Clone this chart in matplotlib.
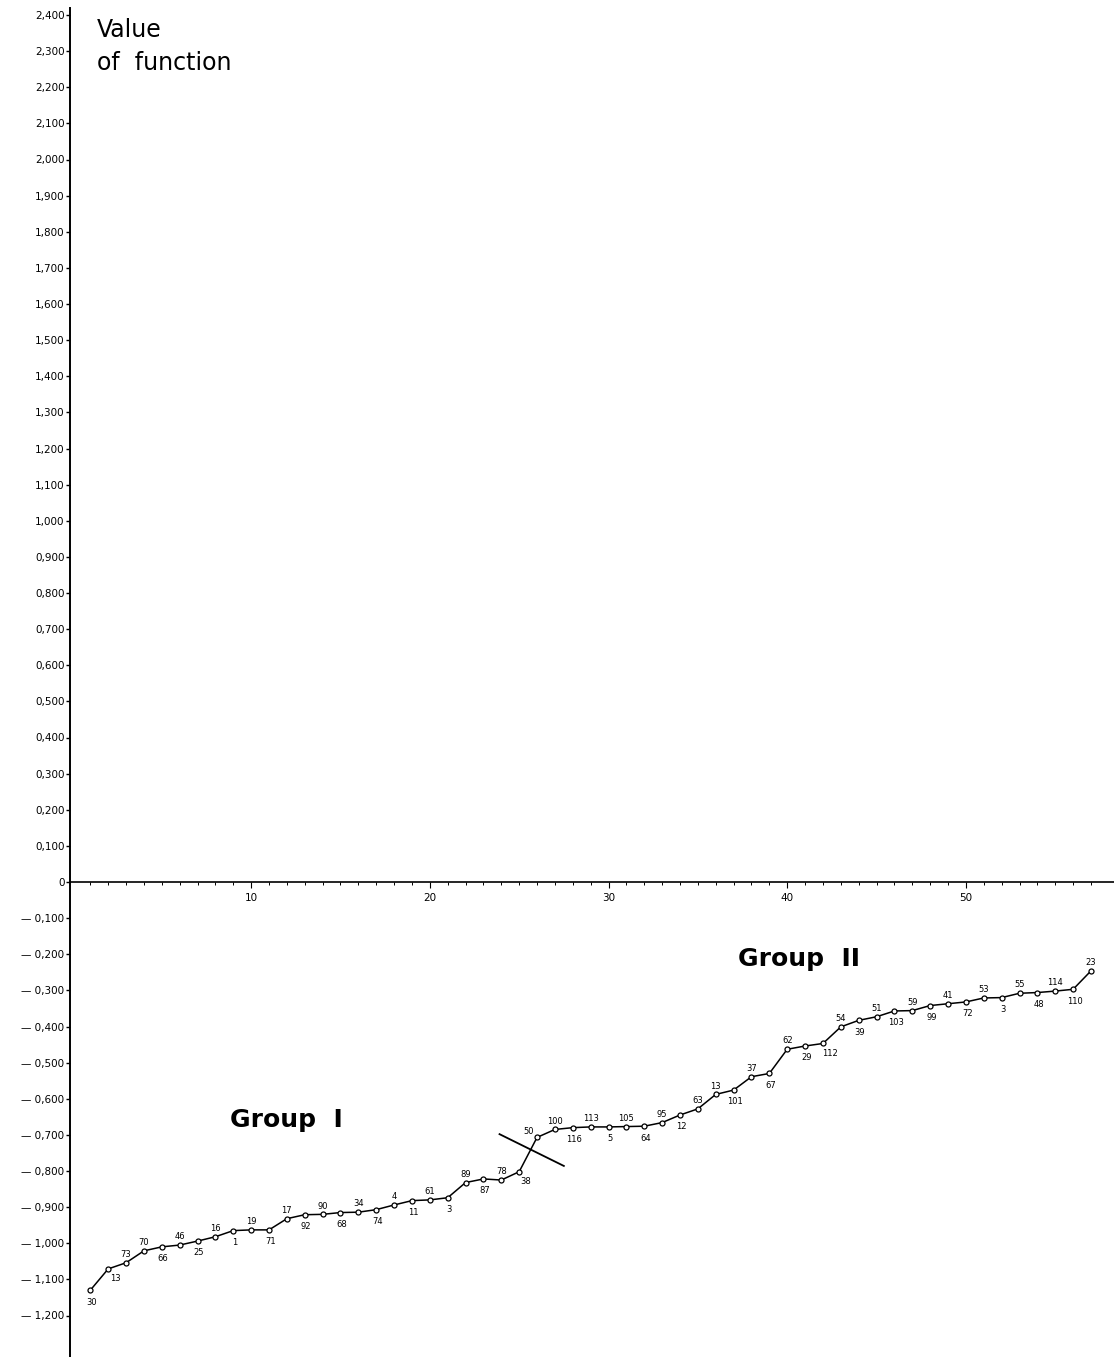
import numpy as np
import matplotlib.pyplot as plt

# data
position = np.arange(1, 58)
object_id = [30, 13, 73, 70, 66, 46, 25, 16, 1, 19, 71, 17, 92, 90, 68, 34, 74, 4, 11, 61,
             3, 89, 87, 78, 38, 50, 100, 116, 113, 5, 105, 64, 95, 12, 63, 13, 101, 37, 67, 62,
             29, 112, 54, 39, 51, 103, 59, 99, 41, 72, 53, 3, 55, 48, 114, 110, 23]
func_value = [-1.130, -1.071, -1.054, -1.021, -1.010, -1.005, -0.994, -0.982, -0.965, -0.963,
              -0.963, -0.932, -0.921, -0.920, -0.915, -0.914, -0.907, -0.894, -0.882, -0.880,
              -0.874, -0.832, -0.822, -0.825, -0.802, -0.707, -0.685, -0.680, -0.678, -0.678,
              -0.677, -0.676, -0.666, -0.645, -0.628, -0.588, -0.576, -0.539, -0.530, -0.463,
              -0.454, -0.447, -0.401, -0.383, -0.373, -0.357, -0.356, -0.342, -0.337, -0.332,
              -0.321, -0.320, -0.308, -0.306, -0.302, -0.297, -0.246]
y_ticks = np.round(np.arange(-1.2, 2.41, 0.1), 1)
x_ticks = [10, 20, 30, 40, 50]

# where each id label sits: a = above, b = below, r = below right, l = above left
label_side = ("braab" "ababa" "babab" "ababa" "babar" "labab"
              "ababa" "ababa" "braba" "babab" "ababa" "ba")

# separating stroke between the two groups
cut_x = [23.9, 27.5]
cut_y = [-0.698, -0.786]

W, H, dpi = 1114, 1357, 100
fig = plt.figure(figsize=(W / dpi, H / dpi), dpi=dpi)
ax = fig.add_axes([70 / W, 0, 1 - 70 / W, 1])

x0_px, dx_px = 72.5, 18.18
ax.set_xlim((70 - x0_px) / dx_px, (W - x0_px) / dx_px + 1)
ax.set_ylim(-(H - 882) / 361.25, 882 / 361.25)

ax.plot(position, func_value, color='black', lw=1.1, marker='o', ms=3.6,
        mfc='white', mec='black', mew=0.9, zorder=3)
ax.plot(cut_x, cut_y, color='black', lw=1.3)

for x, v, lab, side in zip(position, func_value, object_id, label_side):
    if side == 'a':
        off = (0, 6)
    elif side == 'l':
        off = (-6, 4)
    elif side == 'r':
        off = (5, -7)
    else:
        off = (1, -8.5)
    ax.annotate(str(lab), (x, v), xytext=off, textcoords='offset points',
                ha='center', va='center', fontsize=6, color='black')

# axes styling
for s in ['top', 'right']:
    ax.spines[s].set_visible(False)
ax.spines['bottom'].set_position(('data', 0))
ax.spines['bottom'].set_linewidth(1.2)
ax.spines['left'].set_linewidth(1.4)
ax.spines['left'].set_bounds(ax.get_ylim()[0], 2.42)

ax.set_yticks(y_ticks)
ylabels = []
for v in y_ticks:
    if v == 0:
        ylabels.append('0')
    elif v > 0:
        ylabels.append(f"{v:.3f}".replace('.', ','))
    else:
        ylabels.append("— " + f"{-v:.3f}".replace('.', ','))
ax.set_yticklabels(ylabels, fontsize=7.5)
ax.tick_params(axis='y', direction='out', length=3, width=1, pad=1)

ax.set_xticks(x_ticks)
ax.set_xticklabels([str(t) for t in x_ticks], fontsize=7.5)
ax.set_xticks(position, minor=True)
ax.tick_params(axis='x', which='major', direction='out', length=4, width=0.8, pad=4)
ax.tick_params(axis='x', which='minor', direction='out', length=2.5, width=0.7)

fig.text(97 / W, 1 - 30 / H, "Value", fontsize=17, va='center', ha='left')
fig.text(97 / W, 1 - 63 / H, "of  function", fontsize=17, va='center', ha='left')

ax.text((233 - x0_px) / dx_px, -0.659, "Group  I", fontsize=18, fontweight='bold',
        ha='left', va='center')
ax.text((750 - x0_px) / dx_px, -0.213, "Group  II", fontsize=18, fontweight='bold',
        ha='left', va='center')

fig.savefig('out.png', dpi=dpi)
